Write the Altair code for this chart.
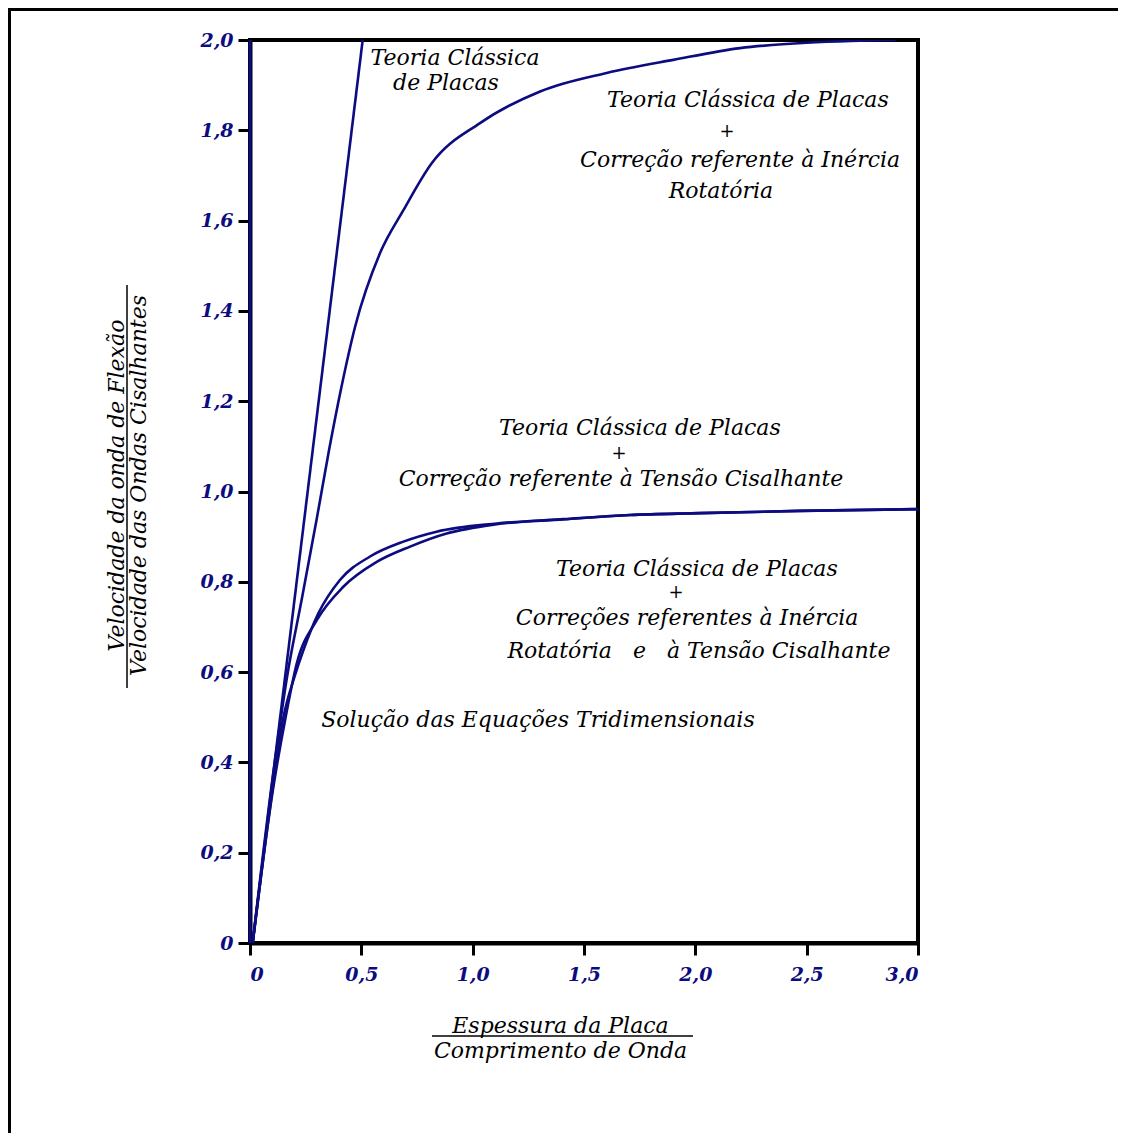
import altair as alt
import pandas as pd

NAVY = "#0c0c80"
FONT = "DejaVu Serif"

# ---- curves (x = espessura/comprimento de onda, y = razão de velocidades) ----
classica_x = [0.012, 0.506]
classica_y = [0.0, 2.0]

inercia_x = [0.012, 0.10, 0.17, 0.232, 0.30, 0.355, 0.41, 0.472, 0.584, 0.689,
             0.816, 1.033, 1.303, 1.602, 1.901, 2.201, 2.50, 2.70, 2.90]
inercia_y = [0.0, 0.36, 0.60, 0.76, 0.94, 1.092, 1.23, 1.365, 1.528, 1.623,
             1.727, 1.816, 1.886, 1.927, 1.956, 1.982, 1.994, 1.998, 2.0]

cisalh_x = [0.012, 0.09, 0.15, 0.20, 0.24, 0.307, 0.404, 0.539, 0.689, 0.838,
            1.108, 1.408, 1.707, 2.02, 2.47, 3.0]
cisalh_y = [0.0, 0.30, 0.50, 0.59, 0.649, 0.73, 0.804, 0.856, 0.889, 0.911,
            0.929, 0.939, 0.948, 0.952, 0.957, 0.961]

tridim_x = [0.012, 0.10, 0.16, 0.21, 0.30, 0.419, 0.569, 0.719, 0.883, 1.10,
            1.408, 1.707, 2.02, 2.47, 3.0]
tridim_y = [0.0, 0.33, 0.50, 0.619, 0.715, 0.789, 0.844, 0.878, 0.907, 0.927,
            0.938, 0.948, 0.952, 0.957, 0.961]

x_ticks = [0, 0.5, 1.0, 1.5, 2.0, 2.5, 3.0]
y_ticks = [0, 0.2, 0.4, 0.6, 0.8, 1.0, 1.2, 1.4, 1.6, 1.8, 2.0]

# ---- annotations ----
NB = "\u00a0"
label_text = ["Teoria Clássica", "de Placas",
              "Teoria Clássica de Placas", "Correção referente à Inércia", "Rotatória",
              "Teoria Clássica de Placas", "Correção referente à Tensão Cisalhante",
              "Teoria Clássica de Placas", "Correções referentes à Inércia",
              "Rotatória" + NB * 3 + "e" + NB * 3 + "à Tensão Cisalhante",
              "Solução das Equações Tridimensionais"]
label_x = [0.921, 0.880, 2.236, 2.201, 2.115, 1.751, 1.666, 2.007, 1.963, 2.016, 1.293]
label_y = [1.960, 1.905, 1.867, 1.734, 1.666, 1.141, 1.028, 0.828, 0.720, 0.647, 0.494]

plus_x = [2.142, 1.657, 1.913]
plus_y = [1.796, 1.083, 0.775]

rows = []
for name, xs, ys in [("classica", classica_x, classica_y),
                     ("inercia", inercia_x, inercia_y),
                     ("cisalh", cisalh_x, cisalh_y),
                     ("tridim", tridim_x, tridim_y)]:
    for i, (a, b) in enumerate(zip(xs, ys)):
        rows.append({"serie": name, "ordem": i, "x": a, "y": b})
curves = pd.DataFrame(rows)
labels = pd.DataFrame({"t": label_text, "x": label_x, "y": label_y})
plus = pd.DataFrame({"t": ["+"] * 3, "x": plus_x, "y": plus_y})

xscale = alt.Scale(domain=[0, 3.0], nice=False, zero=False)
yscale = alt.Scale(domain=[0, 2.0], nice=False, zero=False)

label_expr = "datum.value == 0 ? '0' : replace(format(datum.value, '.1f'), '.', ',')"

x_axis = alt.Axis(values=x_ticks, labelExpr=label_expr, grid=False,
                  title=["Espessura da Placa", "Comprimento de Onda"],
                  titleFont=FONT, titleFontStyle="italic", titleFontWeight="normal",
                  titleFontSize=22, titleColor="black", titleLineHeight=25,
                  titleX=310, titleY=82, titleAlign="center", titleBaseline="middle",
                  labelFont=FONT, labelFontStyle="italic", labelFontWeight="bold",
                  labelFontSize=19, labelColor=NAVY, labelPadding=10,
                  tickColor="black", tickWidth=3, tickSize=12,
                  domainColor="black", domainWidth=4)
y_axis = alt.Axis(values=y_ticks, labelExpr=label_expr, grid=False,
                  title=["Velocidade da onda de Flexão", "Velocidade das Ondas Cisalhantes"],
                  titleFont=FONT, titleFontStyle="italic", titleFontWeight="normal",
                  titleFontSize=22, titleColor="black", titleLineHeight=22,
                  titleAngle=270, titleX=-134, titleY=445,
                  titleAlign="center", titleBaseline="middle",
                  labelFont=FONT, labelFontStyle="italic", labelFontWeight="bold",
                  labelFontSize=19, labelColor=NAVY, labelPadding=5,
                  tickColor="black", tickWidth=3, tickSize=12,
                  domainColor="black", domainWidth=4)

lines = alt.Chart(curves).mark_line(color=NAVY, strokeWidth=2.6, clip=True,
                                    interpolate="monotone").encode(
    x=alt.X("x:Q", scale=xscale, axis=x_axis),
    y=alt.Y("y:Q", scale=yscale, axis=y_axis),
    detail="serie:N",
    order="ordem:Q",
)

left_edge = alt.Chart(pd.DataFrame({"x": [0], "y": [0], "y2": [2.0]})).mark_rule(
    color=NAVY, strokeWidth=3).encode(
    x=alt.X("x:Q", scale=xscale), y=alt.Y("y:Q", scale=yscale), y2="y2:Q")

texts = alt.Chart(labels).mark_text(font=FONT, fontStyle="italic", fontSize=22,
                                    color="black", align="center", baseline="middle").encode(
    x=alt.X("x:Q", scale=xscale), y=alt.Y("y:Q", scale=yscale), text="t:N")

plus_marks = alt.Chart(plus).mark_text(font=FONT, fontSize=18, color="black",
                                       align="center", baseline="middle").encode(
    x=alt.X("x:Q", scale=xscale), y=alt.Y("y:Q", scale=yscale), text="t:N")

# fraction bars of the axis titles
ybar = alt.Chart(pd.DataFrame({"a": [0]})).mark_rule(color="black", strokeWidth=1.5, clip=False).encode(
    x=alt.value(-123), y=alt.value(245), y2=alt.value(648))
xbar = alt.Chart(pd.DataFrame({"a": [0]})).mark_rule(color="black", strokeWidth=1.5, clip=False).encode(
    x=alt.value(182), x2=alt.value(443), y=alt.value(996))

# outer page frame
frame_top = alt.Chart(pd.DataFrame({"a": [0]})).mark_rule(color="black", strokeWidth=3, clip=False).encode(
    x=alt.value(-242), x2=alt.value(900), y=alt.value(-30.5))
frame_left = alt.Chart(pd.DataFrame({"a": [0]})).mark_rule(color="black", strokeWidth=3, clip=False).encode(
    x=alt.value(-240.5), y=alt.value(-32), y2=alt.value(1120))

chart = alt.layer(lines, left_edge, texts, plus_marks, ybar, xbar, frame_top, frame_left).properties(
    width=668, height=903,
    autosize=alt.AutoSizeParams(type="none"),
    padding={"left": 242, "top": 32, "right": 200, "bottom": 190},
    background="white",
).configure_view(stroke="black", strokeWidth=4)

chart.save("out.html", embed_options={"renderer": "svg", "actions": False})
